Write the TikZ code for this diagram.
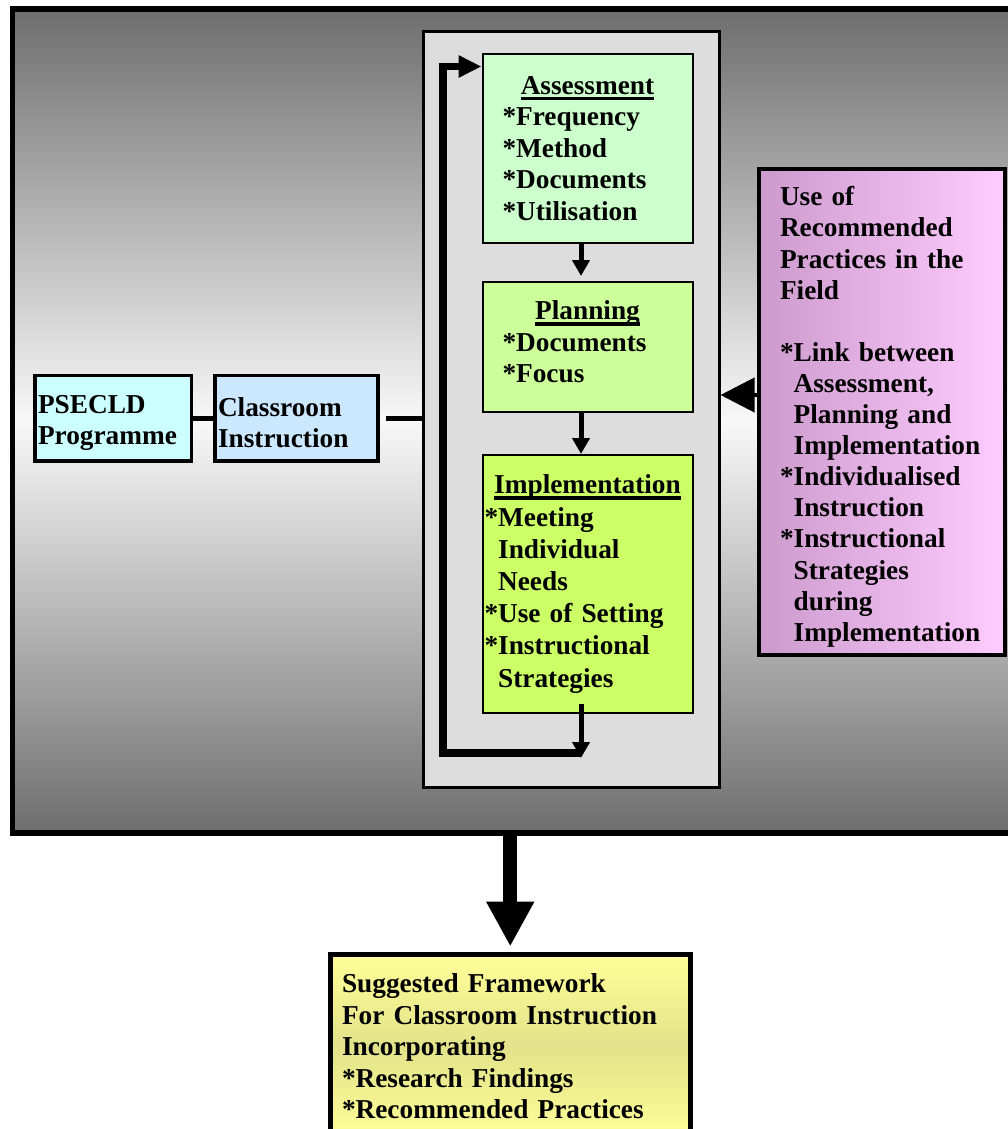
\documentclass[tikz,border=0pt]{standalone}
\usepackage{fontspec}
\setmainfont{Liberation Serif}
\usepackage{tikz}
\usetikzlibrary{arrows.meta,positioning,calc}

\definecolor{assessfill}{HTML}{CCFFCC}
\definecolor{planfill}{HTML}{CCFF99}
\definecolor{implfill}{HTML}{CCFF66}
\definecolor{progfill}{HTML}{CCFFFF}
\definecolor{classfill}{HTML}{CCE8FF}
\definecolor{cyclefill}{HTML}{DDDDDD}
\definecolor{pinkdark}{HTML}{CC9ACC}
\definecolor{pinklight}{HTML}{FFCCFF}
\definecolor{framedark}{HTML}{6E6E6E}
\definecolor{framelight}{HTML}{F8F8F8}
\definecolor{yellowlight}{HTML}{FFFF99}
\definecolor{yellowdark}{HTML}{E2E28A}

\newcommand{\ttl}[1]{\setbox0\hbox{#1}\rlap{\rule[-6pt]{\wd0}{3.5pt}}\box0}
\newcommand{\heading}[1]{\hfill\ttl{#1}\hfill\null}

\tikzset{
  every node/.style={font=\fontsize{27.3}{31.5}\selectfont\bfseries, text=black},
  framebox/.style={draw, line width=5.5pt, minimum width=1027.5pt, minimum height=824pt,
    top color=framedark, bottom color=framedark, middle color=framelight},
  cyclebox/.style={draw, line width=3pt, fill=cyclefill, minimum width=295.5pt, minimum height=756pt},
  stepbox/.style={draw, line width=2pt, align=left, text width=170pt, inner xsep=20pt,
    inner ysep=0pt, minimum width=210pt},
  startbox/.style={draw, line width=3.5pt, align=left, inner xsep=3pt, inner ysep=0pt,
    minimum height=85.5pt, text height=28pt},
  practicebox/.style={draw, line width=3.5pt, align=left, text width=204pt, inner xsep=21pt,
    inner ysep=0pt, text height=29pt, minimum width=246pt, minimum height=486pt,
    left color=pinkdark, right color=pinklight, font=\fontsize{27.3}{31.1}\selectfont\bfseries},
  finalbox/.style={draw, line width=5pt, align=left, text width=336.5pt, inner xsep=12pt,
    inner ysep=20pt, top color=yellowlight, bottom color=yellowlight, middle color=yellowdark},
  steparrow/.style={line width=5pt, -{Triangle[width=17pt,length=16pt]}},
  looparrow/.style={line width=7.5pt, line join=miter, -{Triangle[width=21pt,length=23pt]}},
  feedarrow/.style={line width=4pt, -{Triangle[width=34pt,length=34pt]}},
  bigarrow/.style={line width=14pt, -{Triangle[width=45pt,length=45pt]}},
  link/.style={line width=5pt}
}

\begin{document}
\begin{tikzpicture}[x=1pt,y=-1pt]
  \useasboundingbox (0,0) rectangle (1008,1129);

  \node[framebox] (frame) at (526.25,421) {};
  \node[cyclebox] (cycle) at (571.25,409.5) {};

  \node[stepbox, fill=assessfill, minimum height=188pt] (assess) at (587.5,148.5)
    {\heading{Assessment}\\{}*Frequency\\{}*Method\\{}*Documents\\{}*Utilisation};
  \node[stepbox, fill=planfill, minimum height=130pt, text depth=73pt] (plan) at (587.5,347)
    {\heading{Planning}\\{}*Documents\\{}*Focus};
  \node[stepbox, fill=implfill, minimum height=258pt, text width=206pt, inner xsep=2pt,
    font=\fontsize{27.3}{32.2}\selectfont\bfseries] (impl) at (587.5,584)
    {\heading{Implementation}\\{}*Meeting\\ \phantom{*}Individual\\ \phantom{*}Needs\\{}*Use of Setting\\{}*Instructional\\ \phantom{*}Strategies};

  \node[startbox, fill=progfill, text width=150.5pt] (prog) at (113.25,418.25) {PSECLD\\ Programme};
  \node[startbox, fill=classfill, text width=157pt] (classroom) at (296.5,418.25) {Classroom\\ Instruction};

  \node[practicebox] (practice) at (882,412)
    {Use of\\ Recommended\\ Practices in the\\ Field\\[31.1pt]
     *Link between\\ \phantom{*}Assessment,\\ \phantom{*}Planning and\\ \phantom{*}Implementation\\{}*Individualised\\ \phantom{*}Instruction\\{}*Instructional\\ \phantom{*}Strategies\\
     \phantom{*}during\\ \phantom{*}Implementation};

  \node[finalbox, anchor=north] (final) at (510.25,951.5)
    {Suggested Framework\\ For Classroom Instruction\\ Incorporating\\{}*Research Findings\\{}*Recommended Practices};

  \coordinate (turn) at (581,753);
  \coordinate (rail) at (443,66.5);

  \draw[link] (prog) -- (classroom);
  \draw[link, shorten <=6pt] (classroom) -- (classroom -| cycle.west);
  \draw[steparrow, shorten >=5pt] ([xshift=-6.5pt]assess.south) -- ([xshift=-6.5pt]plan.north);
  \draw[steparrow] ([xshift=-6.5pt]plan.south) -- ([xshift=-6.5pt]impl.north);
  \draw[looparrow] (turn) -| (rail) -- (rail -| assess.west);
  \draw[steparrow] ([xshift=-6.5pt,yshift=10pt]impl.south) -- ([xshift=-6.5pt,yshift=-44pt]impl.south);
  \draw[feedarrow] ([yshift=17pt]practice.west) -- ([yshift=17pt]practice.west -| cycle.east);
  \draw[bigarrow, shorten >=5pt] (frame.south -| final.north) -- (final.north);
\end{tikzpicture}
\end{document}
